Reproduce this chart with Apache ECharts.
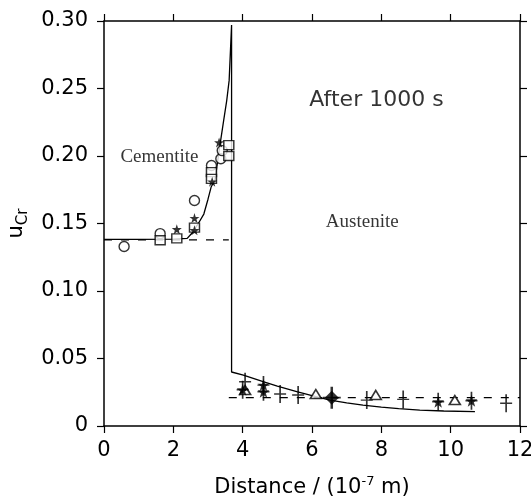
<!DOCTYPE html>
<html><head><meta charset="utf-8">
<script src="https://cdn.jsdelivr.net/npm/echarts@6/dist/echarts.min.js"></script>
<style>html,body{margin:0;padding:0;background:#fff}#c{width:531px;height:497px}</style>
</head><body><div id="c"></div>
<script>
// Axis ticks
const xTicks = [0, 2, 4, 6, 8, 10, 12];
const yTicks = [0, 0.05, 0.10, 0.15, 0.20, 0.25, 0.30];
// Model curve (solid)
const modelCurve = [[0,0.1383],[1.0,0.1383],[2.0,0.1385],[2.4,0.139],[2.54,0.143],[2.72,0.150],[2.88,0.157],[3.0,0.168],[3.09,0.177],[3.2,0.182],[3.35,0.209],[3.45,0.226],[3.54,0.241],[3.61,0.256],[3.68,0.297],
  [3.68,0.040],[4.02,0.0377],[4.59,0.0328],[5.0,0.0295],[5.56,0.0254],[6.0,0.0225],[6.52,0.0192],[7.0,0.0172],[7.47,0.0155],[8.0,0.0140],[8.5,0.0128],[9.11,0.0118],[9.8,0.0111],[10.7,0.0106]];
// Equilibrium (dashed)
const cementiteEq = [[0,0.1378],[3.6,0.1378]];
const austeniteEq = [[3.6,0.0210],[12,0.0210]];
// Measured points
const circles = [[0.58,0.133],[1.62,0.1425],[2.61,0.167],[3.1,0.193],[3.37,0.198],[3.41,0.204]];
const squares = [[1.62,0.1376],[2.1,0.139],[2.61,0.147],[3.1,0.188],[3.1,0.183],[3.6,0.208],[3.6,0.200]];
const stars = [[2.1,0.1457],[2.61,0.145],[3.12,0.181],[3.32,0.210],[2.61,0.154]];
const openTriangles = [[4.07,0.0266],[6.11,0.0237],[7.84,0.023],[10.12,0.0192]];
const filledStars = [[4.6,0.0254],[4.6,0.0303],[9.64,0.018],[10.6,0.0187],[4.0,0.0268]];
const plusBars = [[4.07,0.0328],[5.08,0.0237],[5.6,0.023],[7.58,0.0192],[8.63,0.0197],[11.6,0.0168]];
const diamonds = [[6.57,0.021]];
const labels = [
  {text:'After 1000 s', x:7.86, y:0.2412, font:'DejaVu Sans', size:22},
  {text:'Cementite', x:1.6, y:0.1995, font:'Liberation Serif', size:19},
  {text:'Austenite', x:7.45, y:0.151, font:'Liberation Serif', size:19}
];

const chart = echarts.init(document.getElementById('c'), null, {renderer:'canvas'});
const black = '#000';
const plusPath = 'path://M4.3,0h1.4v8.3h4.3v1.4h-4.3v8.3h-1.4v-8.3h-4.3v-1.4h4.3z';
const starPath = 'path://M5,0L6.2,3.6L10,3.6L7,5.9L8.1,9.5L5,7.3L1.9,9.5L3,5.9L0,3.6L3.8,3.6z';
const axisCommon = {
  min: 0, axisLine:{show:true, onZero:false, lineStyle:{color:black, width:1.5}},
  axisTick:{show:true, inside:false, length:7, lineStyle:{color:black, width:1.2}},
  splitLine:{show:false}
};
const option = {
  animation:false,
  backgroundColor:'#fff',
  grid:{left:104, right:11, top:21, bottom:71, containLabel:false, outerBoundsMode:'none'},
  xAxis:[
    Object.assign({}, axisCommon, {type:'value', position:'bottom', max:12, interval:2,
      axisLabel:{show:true, margin:14, color:black, fontFamily:'DejaVu Sans', fontSize:21,
        formatter:v=>xTicks.includes(v)?String(v):''},
      name:'Distance / (10{sup|-7} m)', nameLocation:'middle', nameGap:49,
      nameTextStyle:{color:black, fontFamily:'DejaVu Sans', fontSize:21,
        rich:{sup:{fontFamily:'DejaVu Sans', fontSize:13, color:black, padding:[0,0,12,0]}}}}),
    Object.assign({}, axisCommon, {type:'value', position:'top', max:12, interval:2, axisLabel:{show:false}})
  ],
  yAxis:[
    Object.assign({}, axisCommon, {type:'value', position:'left', max:0.30, interval:0.05,
      axisLabel:{show:true, margin:16, color:black, fontFamily:'DejaVu Sans', fontSize:21,
        formatter:v=>{const r=Math.round(v*100)/100; return r===0?'0':r.toFixed(2);}},
      name:'u{sub|Cr}', nameLocation:'middle', nameGap:70, nameRotate:90,
      nameTextStyle:{color:black, fontFamily:'DejaVu Sans', fontSize:21,
        rich:{sub:{fontFamily:'DejaVu Sans', fontSize:15, color:black, padding:[12,0,0,0]}}}}),
    Object.assign({}, axisCommon, {type:'value', position:'right', max:0.30, interval:0.05, axisLabel:{show:false}})
  ],
  series:[
    {type:'line', data:modelCurve, showSymbol:false, symbol:'none', lineStyle:{color:black, width:1.3}, z:3},
    {type:'line', data:cementiteEq, symbol:'none', lineStyle:{color:black, width:1.3, type:[8,9]}, z:2},
    {type:'line', data:austeniteEq, symbol:'none', lineStyle:{color:black, width:1.3, type:[8,9]}, z:2},
    {type:'scatter', data:circles, symbol:'circle', symbolSize:10, itemStyle:{color:'#fff', borderColor:black, borderWidth:1.4}, z:4},
    {type:'scatter', data:squares, symbol:'rect', symbolSize:[10,9], itemStyle:{color:'#fff', borderColor:black, borderWidth:1.4}, z:5},
    {type:'scatter', data:stars, symbol:starPath, symbolSize:10, itemStyle:{color:black}, z:6},
    {type:'scatter', data:openTriangles, symbol:'triangle', symbolSize:[11,9], itemStyle:{color:'#fff', borderColor:black, borderWidth:1.6}, z:5},
    {type:'scatter', data:filledStars, symbol:starPath, symbolSize:12, itemStyle:{color:black}, z:6},
    {type:'scatter', data:filledStars, symbol:plusPath, symbolSize:[12,18], itemStyle:{color:black}, z:6},
    {type:'scatter', data:plusBars, symbol:plusPath, symbolSize:[12,18], itemStyle:{color:black}, z:6},
    {type:'scatter', data:diamonds, symbol:'diamond', symbolSize:[14,14], itemStyle:{color:black}, z:6},
    {type:'scatter', data:diamonds, symbol:plusPath, symbolSize:[18,22], itemStyle:{color:black}, z:6},
    {type:'scatter', data:labels.map(l=>({value:[l.x,l.y], label:{show:true, position:'inside', formatter:l.text, fontFamily:l.font, fontSize:l.size, color:black}})),
      symbolSize:1, itemStyle:{color:'rgba(0,0,0,0)'}, silent:true, z:10}
  ]
};
chart.setOption(option);
</script></body></html>
